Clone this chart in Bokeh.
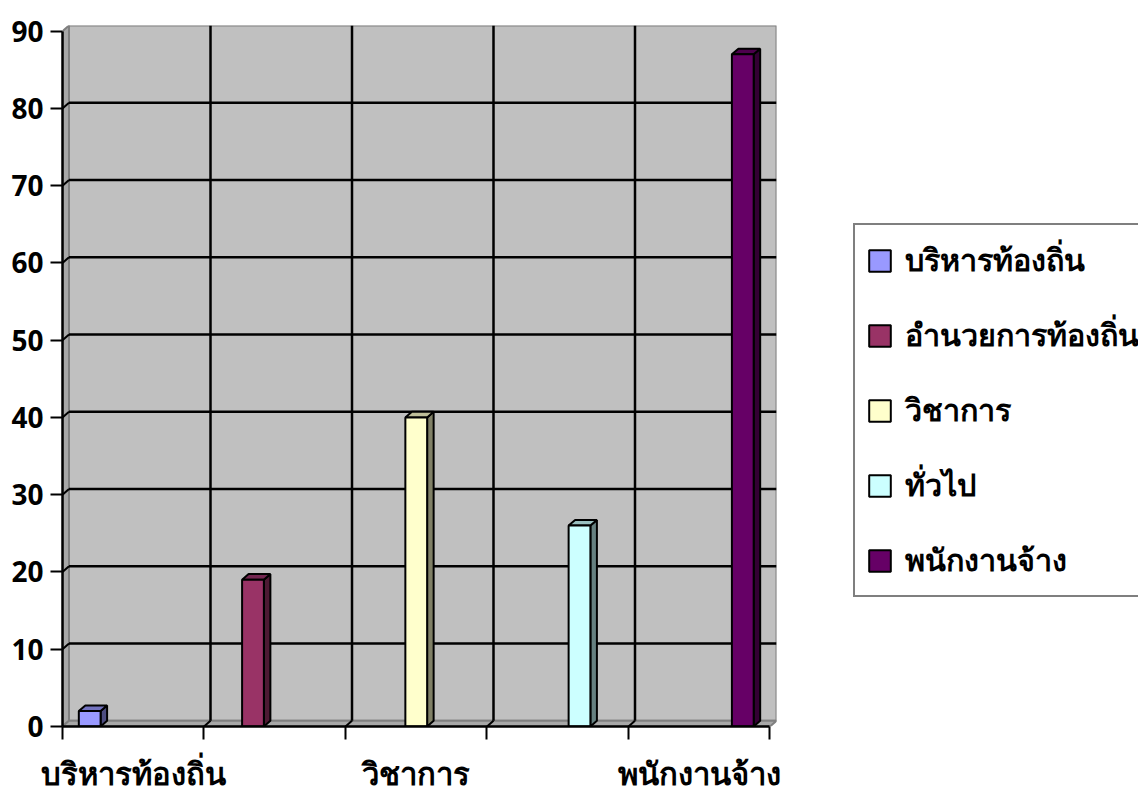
from bokeh.plotting import figure
from bokeh.models import Range1d, FixedTicker, Legend, LegendItem
from bokeh.embed import file_html
from bokeh.resources import INLINE

# ---- data ----
categories = ["บริหารท้องถิ่น", "อำนวยการท้องถิ่น", "วิชาการ", "ทั่วไป", "พนักงานจ้าง"]
values = [2, 19, 40, 26, 87]
colors = ["#9999FF", "#993366", "#FFFFCC", "#CCFFFF", "#660066"]
side_colors = ["#4D4D80", "#4D1A33", "#808066", "#668080", "#330033"]
top_colors = ["#7373BF", "#732650", "#BFBF99", "#99BFBF", "#4D004D"]
yticks = [0, 10, 20, 30, 40, 50, 60, 70, 80, 90]
shown_labels = [0, 2, 4]

# ---- styling ----
FONT = "Noto Sans"
STYLE = "bold"
DX = 0.046   # 3D depth in x (category units)
DY = 0.73    # 3D depth in y (value units)
n = len(categories)
ymax = yticks[-1]
slots = n + 1.5  # clustered columns, gap width 150%

p = figure(frame_width=714, frame_height=701,
           x_range=Range1d(0, n + DX), y_range=Range1d(0, ymax + DY),
           output_backend="svg", toolbar_location=None,
           min_border_left=62, min_border_top=25, min_border_bottom=76,
           min_border_right=354, outline_line_color=None,
           background_fill_color="white", border_fill_color="white")
p.xgrid.visible = False
p.ygrid.visible = False

# back wall
p.quad(left=[DX], right=[n + DX], bottom=[DY], top=[ymax + DY],
       fill_color="#C0C0C0", line_color="#808080", line_width=2)
# left wall
p.patch([0, DX, DX, 0], [0, DY, ymax + DY, ymax],
        fill_color="#A8A8A8", line_color="#808080", line_width=2)
# floor
p.patch([0, n, n + DX, DX], [0, 0, DY, DY],
        fill_color="#A8A8A8", line_color="#808080", line_width=2)

# grid lines on back wall
inner = yticks[1:-1]
p.segment(x0=[DX] * len(inner), y0=[v + DY for v in inner],
          x1=[n + DX] * len(inner), y1=[v + DY for v in inner],
          line_color="black", line_width=2.5)
p.segment(x0=[0] * len(inner), y0=inner,
          x1=[DX] * len(inner), y1=[v + DY for v in inner],
          line_color="black", line_width=2)
bounds = list(range(1, n))
p.segment(x0=[b + DX for b in bounds], y0=[DY] * len(bounds),
          x1=[b + DX for b in bounds], y1=[ymax + DY] * len(bounds),
          line_color="black", line_width=2.5)
p.segment(x0=bounds, y0=[0] * len(bounds),
          x1=[b + DX for b in bounds], y1=[DY] * len(bounds),
          line_color="black", line_width=2)

# bars (each series sits in its own category slot)
front = []
for i, v in enumerate(values):
    x0 = i + (0.75 + i) / slots
    x1 = x0 + 1 / slots
    p.patch([x1, x1 + DX, x1 + DX, x1], [0, DY, v + DY, v],
            fill_color=side_colors[i], line_color="black", line_width=2)
    p.patch([x0, x1, x1 + DX, x0 + DX], [v, v, v + DY, v + DY],
            fill_color=top_colors[i], line_color="black", line_width=2)
    r = p.quad(left=[x0], right=[x1], bottom=[0], top=[v],
               fill_color=colors[i], line_color="black", line_width=2)
    front.append(r)

# x axis
xa = p.xaxis[0]
xa.ticker = FixedTicker(ticks=[i + 0.5 for i in shown_labels],
                        minor_ticks=list(range(n + 1)))
xa.major_label_overrides = {i + 0.5: categories[i] for i in shown_labels}
xa.bounds = (0, n)
xa.axis_line_color = "black"
xa.axis_line_width = 2.5
xa.major_tick_line_color = None
xa.major_tick_out = 0
xa.major_tick_in = 0
xa.minor_tick_line_color = "black"
xa.minor_tick_line_width = 2
xa.minor_tick_out = 13
xa.minor_tick_in = 0
xa.major_label_standoff = 12
xa.major_label_text_font = FONT
xa.major_label_text_font_style = STYLE
xa.major_label_text_font_size = "31px"
xa.major_label_text_color = "black"

# y axis
ya = p.yaxis[0]
ya.ticker = FixedTicker(ticks=yticks, minor_ticks=[])
ya.bounds = (0, ymax)
ya.axis_line_color = "black"
ya.axis_line_width = 2.5
ya.major_tick_line_color = "black"
ya.major_tick_line_width = 2
ya.major_tick_out = 12
ya.major_tick_in = 0
ya.minor_tick_line_color = None
ya.major_label_standoff = 7
ya.major_label_text_font = FONT
ya.major_label_text_font_style = STYLE
ya.major_label_text_font_size = "28px"
ya.major_label_text_color = "black"

# legend
legend = Legend(items=[LegendItem(label=categories[i], renderers=[front[i]])
                       for i in range(n)],
                location=(77, 129), margin=0, padding=11, spacing=27,
                glyph_width=27, glyph_height=27, label_height=22,
                label_standoff=12, label_text_font=FONT,
                label_text_font_style=STYLE,
                label_text_font_size="30.5px", label_text_color="black",
                border_line_color="black", border_line_width=2,
                background_fill_color="white", background_fill_alpha=1)
p.add_layout(legend, "right")

open("out.html", "w").write(file_html(p, INLINE))
